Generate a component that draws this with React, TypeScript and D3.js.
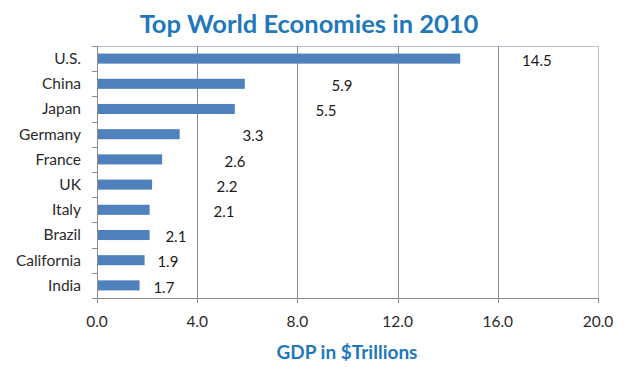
import React from "react";
import * as d3 from "d3";

const categories = ["U.S.", "China", "Japan", "Germany", "France", "UK", "Italy", "Brazil", "California", "India"];
const gdp = [14.5, 5.9, 5.5, 3.3, 2.6, 2.2, 2.1, 2.1, 1.9, 1.7];
const labelText = ["14.5", "5.9", "5.5", "3.3", "2.6", "2.2", "2.1", "2.1", "1.9", "1.7"];
// where Excel placed each data label, in $Trillions
const labelAt = [17.56, 9.78, 9.14, 6.23, 5.51, 5.19, 5.07, 3.15, 2.83, 2.67];
const xTicks = [0, 4, 8, 12, 16, 20];

const W = 640, H = 378;
const M = { left: 97, right: 598, top: 46, bottom: 298 };
const FONT = "Lato, 'Open Sans', 'Liberation Sans', sans-serif";

export default function App() {
  const x = d3.scaleLinear().domain([0, 20]).range([M.left, M.right]);
  const y = d3.scaleBand<string>().domain(categories).range([M.top, M.bottom]).paddingInner(0.6).paddingOuter(0.3);
  const band = d3.scaleBand<string>().domain(categories).range([M.top, M.bottom]);
  const bounds = d3.range(categories.length + 1).map((i) => M.top + i * band.step());

  return (
    <svg width={W} height={H} style={{ position: "absolute", left: 0, top: 0, background: "#fff" }} fontFamily={FONT}>
      <rect x={0} y={0} width={W} height={H} fill="#fff" />
      <text x={309} y={33} textAnchor="middle" fontSize={25.5} fontWeight="bold" fill="#1f78bb">
        Top World Economies in 2010
      </text>
      {/* plot border top/right */}
      <line x1={M.left} x2={M.right} y1={M.top + 0.5} y2={M.top + 0.5} stroke="#b8c4d4" />
      <line x1={M.right + 0.5} x2={M.right + 0.5} y1={M.top} y2={M.bottom} stroke="#b8c4d4" />
      {/* gridlines */}
      {xTicks.slice(1, -1).map((t) => (
        <line key={t} x1={Math.round(x(t)) + 0.5} x2={Math.round(x(t)) + 0.5} y1={M.top} y2={M.bottom} stroke="#8c8c8c" />
      ))}
      {/* bars */}
      {categories.map((c, i) => (
        <rect key={c} x={x(0)} y={y(c)!} width={x(gdp[i]) - x(0)} height={y.bandwidth()} fill="#4f81bd" />
      ))}
      {/* axes */}
      <line x1={M.left + 0.5} x2={M.left + 0.5} y1={M.top} y2={M.bottom} stroke="#8c8c8c" />
      <line x1={M.left} x2={M.right} y1={M.bottom + 0.5} y2={M.bottom + 0.5} stroke="#8c8c8c" />
      {bounds.map((b, i) => (
        <line key={i} x1={M.left - 5} x2={M.left} y1={Math.round(b) + 0.5} y2={Math.round(b) + 0.5} stroke="#8c8c8c" />
      ))}
      {xTicks.map((t) => (
        <line key={t} x1={Math.round(x(t)) + 0.5} x2={Math.round(x(t)) + 0.5} y1={M.bottom} y2={M.bottom + 5} stroke="#8c8c8c" />
      ))}
      {/* category labels */}
      {categories.map((c) => (
        <text key={c} x={81} y={band(c)! + band.step() / 2} dy="0.35em" textAnchor="end" fontSize={15.5} fill="#2a2a2a">
          {c}
        </text>
      ))}
      {/* x tick labels */}
      {xTicks.map((t) => (
        <text key={t} x={x(t)} y={322} dy="0.35em" textAnchor="middle" fontSize={15.5} fill="#2a2a2a">
          {d3.format(".1f")(t)}
        </text>
      ))}
      {/* data labels */}
      {categories.map((c, i) => (
        <text key={c} x={x(labelAt[i])} y={band(c)! + band.step() / 2 + 2} dy="0.35em" textAnchor="middle" fontSize={15} fill="#1a1a1a">
          {labelText[i]}
        </text>
      ))}
      <text x={347} y={352} dy="0.35em" textAnchor="middle" fontSize={19} fontWeight="bold" fill="#1f78bb">
        GDP in $Trillions
      </text>
    </svg>
  );
}
